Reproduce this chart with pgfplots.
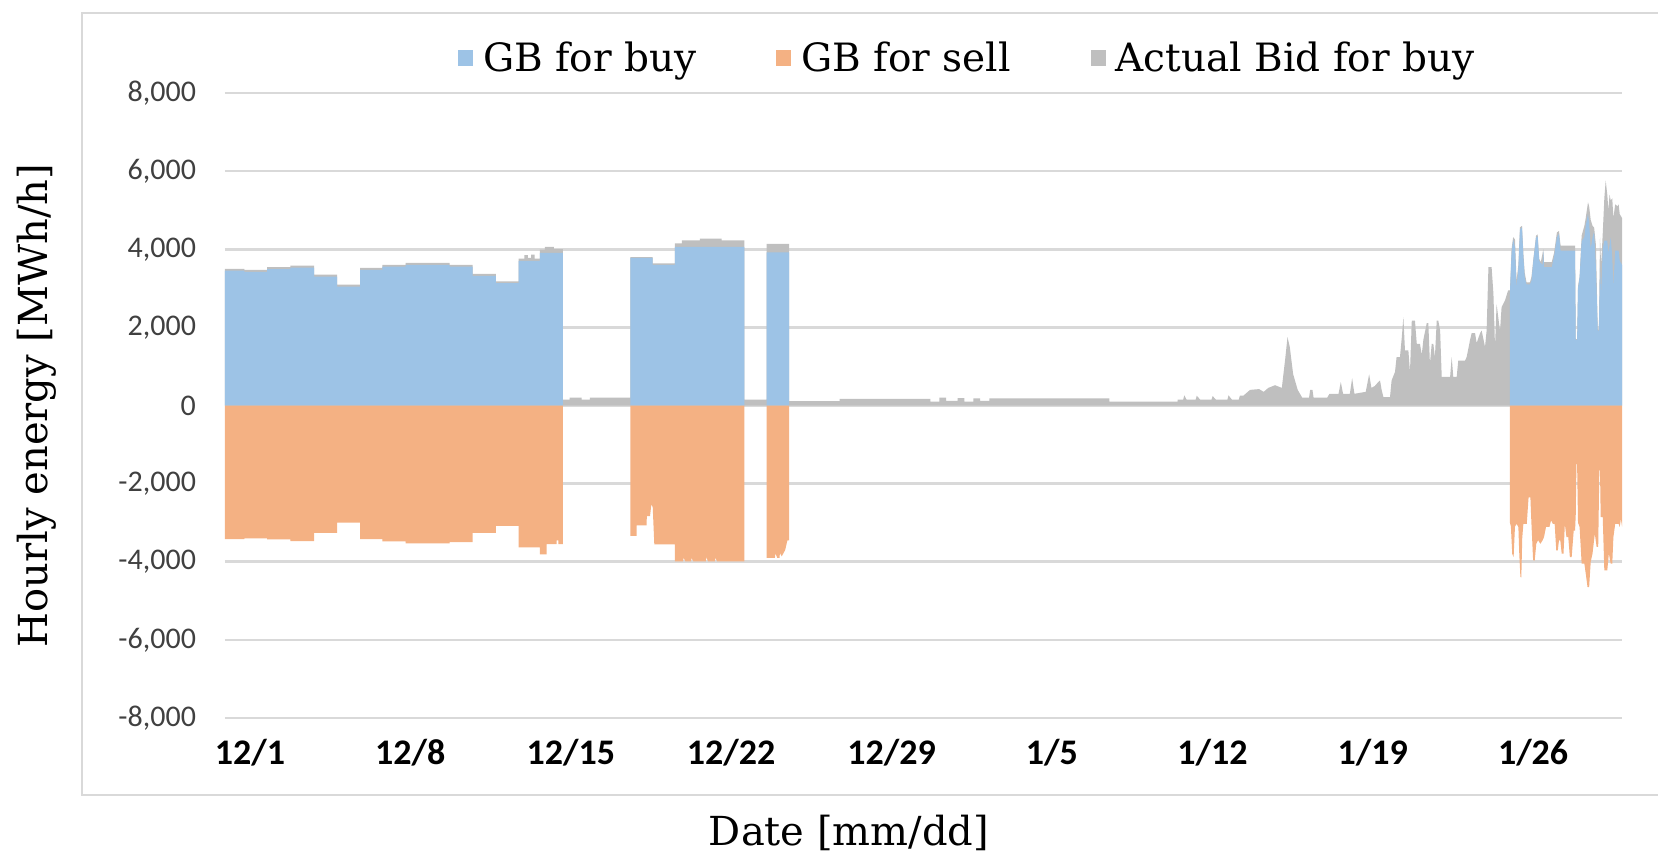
\documentclass[border=0pt]{standalone}
\usepackage{pgfplots}
\pgfplotsset{compat=1.18}
\usepackage{fontspec}
\newfontfamily\slabfont{DejaVu Serif}
\newfontfamily\tickfont{Carlito}
\definecolor{gbblue}{HTML}{9DC3E6}
\definecolor{gborange}{HTML}{F4B183}
\definecolor{gbgray}{HTML}{BFBFBF}
\definecolor{gridgray}{HTML}{D9D9D9}
\begin{document}
\begin{tikzpicture}
\path[use as bounding box] (0pt,0pt) rectangle (829pt,426pt);
\draw[gridgray, line width=1.4pt] (840pt,419.5pt) -- (41pt,419.5pt) -- (41pt,28.5pt) -- (840pt,28.5pt);
\begin{axis}[
  at={(112.5pt,67pt)}, anchor=south west,
  scale only axis, width=698.5pt, height=312.5pt,
  xmin=0, xmax=61.6, ymin=-8000, ymax=8000,
  axis line style={draw=none}, major tick length=0pt,
  ymajorgrids, grid style={gridgray, line width=1.3pt},
  ytick={-8000,-6000,-4000,-2000,0,2000,4000,6000,8000},
  yticklabels={{-8,000},{-6,000},{-4,000},{-2,000},{0},{2,000},{4,000},{6,000},{8,000}},
  xtick={1.10,8.17,15.25,22.32,29.39,36.46,43.54,50.61,57.68},
  xticklabels={12/1,12/8,12/15,12/22,12/29,1/5,1/12,1/19,1/26},
  yticklabel style={font=\tickfont\fontsize{15}{18}\selectfont, text=black!75, xshift=-11pt},
  xticklabel style={font=\tickfont\bfseries\fontsize{18}{21}\selectfont, text=black, yshift=-7pt},
  ylabel={Hourly energy [MWh/h]},
  xlabel={Date [mm/dd]},
  every axis y label/.style={at={(axis description cs:-0.1346,0.5)}, rotate=90, anchor=center, font=\slabfont\fontsize{20}{24}\selectfont},
  every axis x label/.style={at={(axis description cs:0.4467,-0.184)}, anchor=center, font=\slabfont\fontsize{20}{24}\selectfont},
  legend columns=3,
  legend image code/.code={\fill[#1] (0pt,-3.8pt) rectangle (7.5pt,3.8pt);},
  legend style={at={(axis description cs:0.532,1.056)}, anchor=center, draw=none, fill=none,
    font=\slabfont\fontsize{19.5}{23}\selectfont,
    /tikz/every odd column/.append style={column sep=3pt},
    /tikz/every even column/.append style={column sep=38pt}},
]
% Actual Bid for buy (gray)
\addplot[draw=none, fill=gbgray, forget plot] coordinates {
(0,0) (0,3500) (0.85,3500) (0.85,3470) (1.86,3470) (1.86,3540) (2.88,3540) (2.88,3580) (3.93,3580) (3.93,3350) (4.94,3350) (4.94,3095) (5.96,3095) (5.96,3520) (6.94,3520) (6.94,3600) (7.96,3600) (7.96,3650) (9.9,3650) (9.9,3600) (10.92,3600) (10.92,3370) (11.94,3370) (11.94,3180) (12.95,3180) (12.95,3760) (13.2,3760) (13.2,3850) (13.35,3850) (13.35,3780) (13.5,3780) (13.5,3860) (13.65,3860) (13.65,3760) (13.88,3760) (13.88,3990) (14.1,3990) (14.1,4060) (14.5,4060) (14.5,4000) (14.9,4000)
(14.9,150) (15.2,150) (15.2,200) (15.73,200) (15.73,150) (16.09,150) (16.09,200) (17.88,200)
(17.88,3800) (18.86,3800) (18.86,3640) (19.84,3640) (19.84,4150) (20.14,4150) (20.14,4230) (20.94,4230) (20.94,4270) (21.9,4270) (21.9,4230) (22.9,4230)
(22.9,150) (23.88,150) (23.88,4140) (24.87,4140)
(24.87,110) (27.1,110) (27.1,170) (31.1,170)
(31.1,100) (31.5,100) (31.5,200) (31.8,200) (31.8,120) (32.3,120) (32.3,190) (32.6,190) (32.6,100) (33.0,100) (33.0,180) (33.3,180) (33.3,120) (33.7,120)
(33.7,180) (39.0,180) (39.0,100) (42.0,100)
(42.0,150) (42.25,150) (42.3,260) (42.4,150) (42.8,150) (42.85,250) (43.0,150) (43.5,150) (43.55,240) (43.7,150) (44.2,150) (44.25,260) (44.4,150) (44.7,150) (44.75,250) (44.9,250)
(45.0,300) (45.2,400) (45.6,420) (45.8,350) (46.0,450) (46.3,520) (46.6,450) (46.75,1200) (46.85,1750) (46.95,1500) (47.1,800) (47.3,400) (47.5,200) (47.8,200) (47.85,400) (47.95,400) (48.0,200) (48.6,200) (48.7,300) (49.1,300) (49.2,600) (49.3,300) (49.6,300) (49.7,700) (49.8,300) (50.3,350) (50.45,800) (50.55,450) (50.7,500) (50.85,600)
(50.93,640) (51.0,400) (51.08,213) (51.37,213) (51.44,640) (51.59,860) (51.66,1240) (51.81,1240) (51.89,1750) (51.96,2260) (52.03,1410) (52.18,1410) (52.25,850) (52.33,2170) (52.47,2170) (52.55,1580) (52.69,1580) (52.77,1300) (52.84,1680) (52.99,2110) (53.06,2110) (53.13,1070) (53.21,1580) (53.28,1580) (53.35,1240) (53.43,2170) (53.50,2170) (53.58,1920) (53.65,730) (54.02,730) (54.09,1240) (54.16,730) (54.31,730) (54.38,1150) (54.68,1150) (54.75,1240) (54.90,1680) (54.97,1850) (55.12,1850) (55.19,1600) (55.34,1850) (55.41,1920) (55.56,1500) (55.63,1920) (55.71,3540) (55.85,3540) (55.93,2860) (56.0,1500) (56.07,2600) (56.22,1900) (56.29,2520) (56.44,2690) (56.58,2950)
(56.66,2950) (56.73,4000) (56.80,4310) (56.88,4250) (56.95,3200) (57.03,3600) (57.10,4560) (57.19,4600) (57.25,3900) (57.31,3400) (57.39,3150) (57.54,3150) (57.61,3300) (57.69,3750) (57.81,4350) (57.88,4380) (57.95,3750) (58.0,3700) (58.02,3670) (58.13,4000) (58.16,3670) (58.5,3670) (58.6,3900) (58.73,4430) (58.82,4470) (58.88,4150) (58.9,4090) (59.53,4090) (59.56,1700) (59.62,1700) (59.66,3050) (59.73,3300) (59.82,4350) (59.94,4600) (60.0,4800) (60.1,5200) (60.15,5100) (60.22,4750) (60.3,4600) (60.37,4560) (60.45,4100) (60.53,1950) (60.58,1950) (60.63,4300) (60.68,3600) (60.75,4400) (60.82,5300) (60.88,5760) (60.95,5400) (61.0,5000) (61.05,5400) (61.1,5250) (61.17,5300) (61.22,4800) (61.3,5150) (61.4,5100) (61.45,5150) (61.5,4900) (61.6,4800) (61.6,0)
} \closedcycle;
% GB for buy (blue)
\addplot[draw=none, fill=gbblue, forget plot] coordinates {
(0,0) (0,3454) (0.85,3454) (0.85,3420) (1.86,3420) (1.86,3488) (2.88,3488) (2.88,3531) (3.93,3531) (3.93,3300) (4.94,3300) (4.94,3045) (5.96,3045) (5.96,3471) (6.94,3471) (6.94,3556) (7.96,3556) (7.96,3600) (9.9,3600) (9.9,3556) (10.92,3556) (10.92,3318) (11.94,3318) (11.94,3130) (12.95,3130) (12.95,3700) (13.88,3700) (13.88,3910) (14.9,3910) (14.9,0)
} \closedcycle;
\addplot[draw=none, fill=gbblue, forget plot] coordinates {
(17.88,0) (17.88,3780) (18.86,3780) (18.86,3600) (19.84,3600) (19.84,4060) (22.9,4060) (22.9,0)
} \closedcycle;
\addplot[draw=none, fill=gbblue, forget plot] coordinates {
(23.88,0) (23.88,3920) (24.87,3920) (24.87,0)
} \closedcycle;
\addplot[draw=none, fill=gbblue, forget plot] coordinates {
(56.66,0) (56.66,2900) (56.73,3900) (56.80,4250) (56.88,4050) (56.95,3030) (57.03,3500) (57.10,4500) (57.19,4560) (57.25,3800) (57.31,3280) (57.39,3100) (57.54,3100) (57.61,3200) (57.69,3710) (57.81,4300) (57.88,4330) (57.95,3710) (58.0,3650) (58.1,3600) (58.13,3965) (58.16,3540) (58.5,3540) (58.6,3800) (58.73,4300) (58.82,4400) (58.88,4000) (58.9,3965) (59.53,3965) (59.56,1680) (59.62,1680) (59.66,3000) (59.73,3280) (59.82,4200) (59.94,4310) (60.0,4600) (60.1,4900) (60.15,4700) (60.22,4000) (60.3,4310) (60.37,4450) (60.45,3540) (60.53,1920) (60.58,1920) (60.63,3540) (60.68,2860) (60.75,4000) (60.82,4220) (60.95,4220) (61.0,3900) (61.1,4300) (61.17,3800) (61.22,3030) (61.3,3965) (61.45,3965) (61.5,3700) (61.6,3600) (61.6,0)
} \closedcycle;
% GB for sell (orange)
\addplot[draw=none, fill=gborange, forget plot] coordinates {
(0,0) (0,-3420) (0.85,-3420) (0.85,-3400) (1.86,-3400) (1.86,-3430) (2.88,-3430) (2.88,-3470) (3.93,-3470) (3.93,-3260) (4.94,-3260) (4.94,-3000) (5.96,-3000) (5.96,-3420) (6.94,-3420) (6.94,-3480) (7.96,-3480) (7.96,-3530) (9.9,-3530) (9.9,-3500) (10.92,-3500) (10.92,-3260) (11.94,-3260) (11.94,-3080) (12.95,-3080) (12.95,-3630) (13.88,-3630) (13.88,-3810) (14.18,-3810) (14.18,-3550) (14.62,-3550) (14.62,-3450) (14.7,-3450) (14.7,-3550) (14.9,-3550) (14.9,0)
} \closedcycle;
\addplot[draw=none, fill=gborange, forget plot] coordinates {
(17.88,0) (17.88,-3340) (18.15,-3340) (18.15,-3070) (18.59,-3070) (18.6,-2830) (18.74,-2830) (18.8,-2530) (18.86,-2600) (18.93,-3555) (19.84,-3555) (19.84,-3990) (20.2,-3990) (20.22,-3900) (20.3,-3990) (20.55,-3990) (20.57,-3900) (20.65,-3990) (21.2,-3990) (21.22,-3880) (21.3,-3990) (21.6,-3990) (21.62,-3900) (21.7,-3990) (22.9,-3990) (22.9,0)
} \closedcycle;
\addplot[draw=none, fill=gborange, forget plot] coordinates {
(23.88,0) (23.88,-3900) (24.25,-3900) (24.27,-3780) (24.35,-3900) (24.45,-3900) (24.47,-3780) (24.55,-3860) (24.7,-3700) (24.8,-3450) (24.87,-3450) (24.87,0)
} \closedcycle;
\addplot[draw=none, fill=gborange, forget plot] coordinates {
(56.66,0) (56.66,-3000) (56.7,-3100) (56.76,-3800) (56.82,-3880) (56.88,-3100) (56.95,-3030) (57.03,-3110) (57.07,-3800) (57.12,-4390) (57.16,-4400) (57.2,-3400) (57.25,-3030) (57.4,-3030) (57.48,-2350) (57.56,-2350) (57.6,-2940) (57.68,-3960) (57.75,-3970) (57.82,-3540) (57.9,-3450) (58.0,-3540) (58.1,-3450) (58.16,-3370) (58.25,-3110) (58.4,-3110) (58.47,-2940) (58.55,-3030) (58.63,-3030) (58.7,-3710) (58.77,-3710) (58.82,-3450) (58.88,-3460) (58.94,-3790) (59.02,-3790) (59.08,-3030) (59.15,-3370) (59.23,-3370) (59.3,-3880) (59.38,-3880) (59.47,-3200) (59.53,-3200) (59.56,-2800) (59.59,-1500) (59.62,-1500) (59.66,-3000) (59.73,-3110) (59.82,-4050) (59.94,-4050) (60.0,-4300) (60.08,-4650) (60.15,-4650) (60.22,-4000) (60.3,-3790) (60.4,-3280) (60.48,-3620) (60.55,-3620) (60.6,-1660) (60.63,-1660) (60.66,-2860) (60.75,-2860) (60.82,-4220) (60.95,-4220) (61.02,-3790) (61.1,-4050) (61.17,-4050) (61.22,-3370) (61.3,-3030) (61.45,-3030) (61.5,-3110) (61.55,-2900) (61.6,-3100) (61.6,0)
} \closedcycle;
\addlegendimage{fill=gbblue, draw=none}
\addlegendentry{GB for buy}
\addlegendimage{fill=gborange, draw=none}
\addlegendentry{GB for sell}
\addlegendimage{fill=gbgray, draw=none}
\addlegendentry{Actual Bid for buy}
\end{axis}
\end{tikzpicture}
\end{document}
